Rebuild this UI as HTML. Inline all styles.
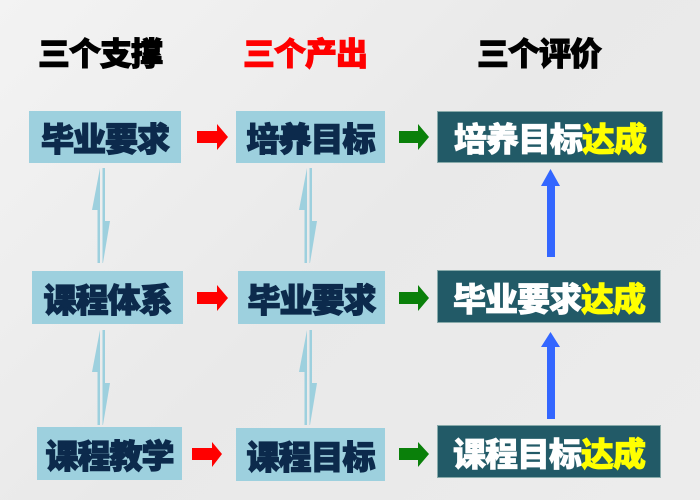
<!DOCTYPE html>
<html><head><meta charset="utf-8"><style>
html,body{margin:0;padding:0}
body{width:700px;height:500px;position:relative;overflow:hidden;background:linear-gradient(135deg,#f3f3f3 0%,#e9e9e9 50%,#ececec 100%);font-family:"Liberation Sans","Noto Sans CJK SC",sans-serif;font-weight:bold}
.h{position:absolute;top:33px;font-size:32px;line-height:42px;font-weight:900;-webkit-text-stroke:1px currentColor;letter-spacing:-1px}
.b{position:absolute;display:flex;align-items:center;justify-content:center;font-size:33px;font-weight:900;white-space:nowrap;letter-spacing:-1px}
.l{background:#9dd0de;color:#0c2a4c;-webkit-text-stroke:1.2px #0c2a4c}
.d{background:#225a67;color:#fff;border:1px solid #8aa;-webkit-text-stroke:0.8px #fff}
.y{color:#ffff00;-webkit-text-stroke:0.8px #ffff00}
svg{position:absolute;left:0;top:0}
</style></head><body>
<div class="h" style="left:38px;color:#000">三个支撑</div>
<div class="h" style="left:243px;color:#f00">三个产出</div>
<div class="h" style="left:477px;color:#000">三个评价</div>

<div class="b l" style="left:29px;top:111px;width:152px;height:52px">毕业要求</div>
<div class="b l" style="left:32px;top:271px;width:151px;height:53px">课程体系</div>
<div class="b l" style="left:37px;top:427px;width:145px;height:53px">课程教学</div>

<div class="b l" style="left:236px;top:111px;width:149px;height:52px">培养目标</div>
<div class="b l" style="left:238px;top:271px;width:147px;height:53px">毕业要求</div>
<div class="b l" style="left:236px;top:428px;width:149px;height:53px">课程目标</div>

<div class="b d" style="left:437px;top:111px;width:224px;height:50px">培养目标<span class="y">达成</span></div>
<div class="b d" style="left:437px;top:270px;width:222px;height:51px">毕业要求<span class="y">达成</span></div>
<div class="b d" style="left:437px;top:425px;width:222px;height:51px">课程目标<span class="y">达成</span></div>

<svg width="700" height="500">
<defs>
<g id="lt" fill="#9dd0de">
<polygon points="100,0 92,42 97.5,42 97.5,95 100,95"/>
<polygon points="102.5,0 105,0 105,53 110,53 103,95 102.5,95"/>
</g>
</defs>
<g fill="#f00">
<polygon points="197,131 217,131 217,124 228,137 217,150 217,143 197,143"/>
<polygon points="197,292 217,292 217,285 228,298 217,311 217,304 197,304"/>
<polygon points="192,448 212,448 212,442 222,454 212,467 212,460 192,460"/>
</g>
<g fill="#0a800a">
<polygon points="399,131 418,131 418,124 429,137 418,150 418,143 399,143"/>
<polygon points="399,292 418,292 418,285 429,298 418,311 418,304 399,304"/>
<polygon points="399,448 418,448 418,442 429,454 418,467 418,460 399,460"/>
</g>
<g fill="#3366ff">
<polygon points="541,186 547,186 547,257 555,257 555,186 560,186 550.5,169"/>
<polygon points="541,347 547,347 547,419 555,419 555,347 560,347 550.5,332"/>
</g>
<use href="#lt" transform="translate(0,168)"/>
<use href="#lt" transform="translate(0,330)"/>
<use href="#lt" transform="translate(207,168)"/>
<use href="#lt" transform="translate(207,330)"/>
</svg>
</body></html>
